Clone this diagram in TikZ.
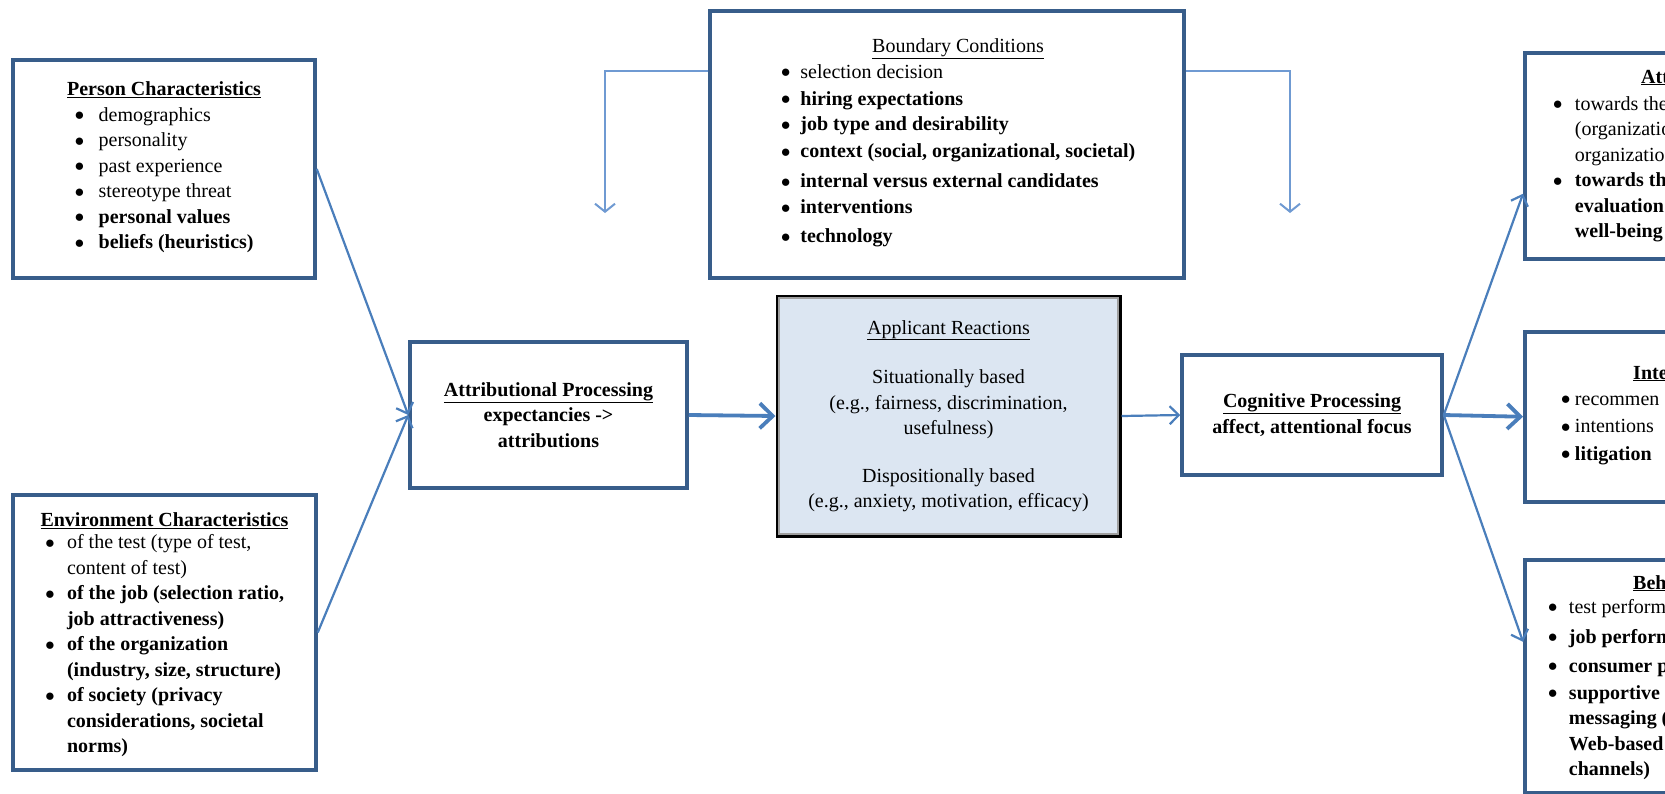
\documentclass[tikz,border=0pt]{standalone}
\usepackage{fontspec}
\setmainfont{Liberation Serif}
\usetikzlibrary{positioning, arrows.meta}

\definecolor{boxblue}{HTML}{385D8A}
\definecolor{linkblue}{HTML}{4A7EBB}
\definecolor{condblue}{HTML}{6F9AD2}
\definecolor{reactfill}{HTML}{DCE6F2}
\newcommand{\hdr}[1]{\underline{\textbf{#1}}}
\newcommand{\bul}{\raisebox{0.5pt}{\fontsize{17}{17}\selectfont ●}}

\begin{document}
\begin{tikzpicture}[
		x=1pt, y=-1pt,
		% Style des cadres
		panel/.style={
			draw=boxblue,
			line width=3.5pt,
			fill=white,
			inner sep=0pt,
			align=center,
			font=\fontsize{20}{25.5}\selectfont
		},
		% Cadres coupés au bord droit
		panelright/.style={
			panel,
			anchor=north west,
			minimum width=320pt
		},
		% Cadre central
		react/.style={
			panel,
			draw=black,
			line width=3pt,
			fill=reactfill
		},
		% Texte libre
		txt/.style={
			inner sep=0pt,
			align=left,
			font=\fontsize{20}{25.5}\selectfont
		},
		% Flèches
		link/.style={
			draw=linkblue,
			line width=2.2pt,
			-{Straight Barb[length=9pt, width=18pt]}
		},
		biglink/.style={
			link,
			line width=3.8pt,
			-{Straight Barb[length=13pt, width=25pt]}
		},
		condlink/.style={
			draw=condblue,
			line width=2pt,
			-{Straight Barb[length=8pt, width=20pt]}
		}
		]
		\clip (0,0) rectangle (1665,793);
		\fill[white] (0,0) rectangle (1665,793);
		
		% --- CADRES DE GAUCHE ---
		\node[panel, minimum width=302pt, minimum height=218pt] (person) at (164,169) {\hdr{Person Characteristics}\\
			\begin{tabular}[t]{@{}l@{\hspace{14pt}}l@{}}
				\bul & demographics\\
				\bul & personality\\
				\bul & past experience\\
				\bul & stereotype threat\\
				\bul & \textbf{personal values}\\
				\bul & \textbf{beliefs (heuristics)}
		\end{tabular}};
		
		\node[panel, minimum width=303pt, minimum height=275pt] (env) at (164.5,632.5) {\rule{0pt}{22pt}\hdr{Environment Characteristics}\\[-3pt]
			\begin{tabular}[t]{@{}l@{\hspace{12pt}}l@{}}
				\bul & of the test (type of test,\\
				& content of test)\\
				\bul & \textbf{of the job (selection ratio,}\\
				& \textbf{job attractiveness)}\\
				\bul & \textbf{of the organization}\\
				& \textbf{(industry, size, structure)}\\
				\bul & \textbf{of society (privacy}\\
				& \textbf{considerations, societal}\\
				& \textbf{norms)}
		\end{tabular}};
		
		% --- CONDITIONS ---
		\node[panel, minimum width=474pt, minimum height=267pt] (bound) at (947,144.5) {\hspace*{22pt}\underline{Boundary Conditions}\\
			\hspace*{22pt}\begin{tabular}[t]{@{}l@{\hspace{9.5pt}}l@{}}
				\bul & selection decision\\[1.5pt]
				\bul & \textbf{hiring expectations}\\
				\bul & \textbf{job type and desirability}\\[1.5pt]
				\bul & \textbf{context (social, organizational, societal)}\\[4.5pt]
				\bul & \textbf{internal versus external candidates}\\[0.5pt]
				\bul & \textbf{interventions}\\[3.5pt]
				\bul & \textbf{technology}
		\end{tabular}};
		
		% --- PROCESSUS ---
		\node[panel, minimum width=277pt, minimum height=146pt] (attr) at (548.5,415) {\hdr{Attributional Processing}\\
			\textbf{expectancies ->}\\
			\textbf{attributions}};
		
		\node[react, minimum width=343pt, minimum height=240pt] (react) at (948.5,416) {\underline{Applicant Reactions}\\[24pt]
			Situationally based\\
			(e.g., fairness, discrimination,\\
			usefulness)\\[22pt]
			Dispositionally based\\
			(e.g., anxiety, motivation, efficacy)};
		\draw[gray!75, line width=1.5pt] ([shift={(3.5pt,-3.5pt)}]react.north west) rectangle ([shift={(-3.5pt,3.5pt)}]react.south east);
		
		\node[panel, minimum width=260pt, minimum height=120pt] (cogn) at (1312,415) {\hdr{Cognitive Processing}\\
			\textbf{affect, attentional focus}};
		
		% --- CADRES DE DROITE ---
		\node[panelright, minimum height=206pt] (atti) at (1523,51) {};
		\node[txt, anchor=base west] (attihead) at (1641,83) {\hdr{Att}};
		\node[txt, anchor=base west] (attilist) at (1552.5,110) {\begin{tabular}[t]{@{}l@{\hspace{12pt}}l@{}}
				\bul & towards the\\
				& (organizatio\\
				& organizatio\\
				\bul & \textbf{towards th}\\
				& \textbf{evaluation}\\
				& \textbf{well-being}
		\end{tabular}};
		
		\node[panelright, minimum height=170pt] (inten) at (1523,330) {};
		\node[txt, anchor=base west] (intenhead) at (1633,379) {\hdr{Inte}};
		\node[txt, anchor=base west] (intenlist) at (1560.5,405) {\begin{tabular}[t]{@{}l@{\hspace{4pt}}l@{}}
				\bul & recommen\\[2pt]
				\bul & intentions\\[2pt]
				\bul & \textbf{litigation}
		\end{tabular}};
		
		\node[panelright, minimum height=233pt] (behav) at (1523,558) {};
		\node[txt, anchor=base west] (behavhead) at (1633,589) {\hdr{Beh}};
		\node[txt, anchor=base west] (behavlist) at (1547.5,613) {\begin{tabular}[t]{@{}l@{\hspace{11pt}}l@{}}
				\bul & test perform\\[4.5pt]
				\bul & \textbf{job perform}\\[3.5pt]
				\bul & \textbf{consumer p}\\[1.5pt]
				\bul & \textbf{supportive}\\
				& \textbf{messaging (}\\
				& \textbf{Web-based}\\
				& \textbf{channels)}
		\end{tabular}};
		
		% --- FLÈCHES ---
		\coordinate (condL) at (605,213);
		\coordinate (condR) at (1290,213);
		\draw[condlink] ([yshift=-62pt]bound.north west) -| (condL);
		\draw[condlink] ([yshift=-62pt]bound.north east) -| (condR);
		
		\draw[link] (person.east) -- (attr.west);
		\draw[link] (env.east) -- (attr.west);
		\draw[biglink] (attr.east) -- (react.west);
		\draw[link] (react.east) -- (cogn.west);
		
		\draw[link] (cogn.east) -- ([yshift=-38pt]atti.west);
		\draw[biglink] (cogn.east) -- (inten.west);
		\draw[link] (cogn.east) -- ([yshift=34.5pt]behav.west);
		
	\end{tikzpicture}
\end{document}
